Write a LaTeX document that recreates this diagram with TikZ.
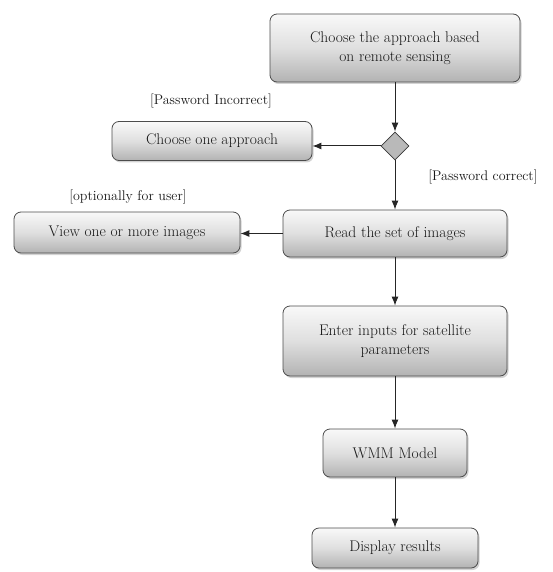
\documentclass[tikz,border=0pt]{standalone}
\usetikzlibrary{shapes.geometric,arrows.meta,shadows}
\tikzset{
  x=1pt, y=-1pt,
  flowbox/.style={draw=gray!60!black, line width=0.8pt, rounded corners=7pt,
    top color=gray!5, bottom color=gray!60, middle color=gray!25,
    drop shadow={shadow xshift=1.5pt, shadow yshift=-2pt, opacity=0.35},
    text=black!90, font=\fontsize{15.5}{19.5}\selectfont, align=center,
    inner sep=0pt},
  guard/.style={text=black!90, font=\fontsize{14}{17}\selectfont, inner sep=0pt},
  decision/.style={diamond, draw=gray!45!black, fill=gray!55, line width=0.8pt,
    minimum width=28pt, minimum height=28pt, inner sep=0pt},
  flow/.style={line width=1pt, black!85, -{Latex[length=9pt,width=7pt]}},
}
\begin{document}
\begin{tikzpicture}
\useasboundingbox (0,0) rectangle (552,572);
\node[flowbox, minimum width=250pt, minimum height=68pt] (start) at (395,48)
  {Choose the approach based\\on remote sensing};
\node[decision] (dec) at (395,146) {};
\node[flowbox, minimum width=200pt, minimum height=39pt] (one) at (212,141) {Choose one approach};
\node[flowbox, minimum width=224pt, minimum height=47pt] (read) at (395,233.5) {Read the set of images};
\node[flowbox, minimum width=226pt, minimum height=41pt] (view) at (127,232.5) {View one or more images};
\node[flowbox, minimum width=224pt, minimum height=70pt] (enter) at (395,341)
  {Enter inputs for satellite\\parameters};
\node[flowbox, minimum width=144pt, minimum height=48pt] (wmm) at (395,453) {WMM Model};
\node[flowbox, minimum width=166pt, minimum height=40pt] (disp) at (395,548) {Display results};

\node[guard] (g1) at (211,101) {[Password Incorrect]};
\node[guard] (g2) at (483,177) {[Password correct]};
\node[guard] (g3) at (128,197) {[optionally for user]};

\draw[flow] (start) -- (dec);
\draw[flow] (dec.west) -- (dec.west -| one.east);
\draw[flow] (dec) -- (read);
\draw[flow] (read.west) -- (read.west -| view.east);
\draw[flow] (read) -- (enter);
\draw[flow] (enter) -- (wmm);
\draw[flow] (wmm) -- (disp);
\end{tikzpicture}
\end{document}
